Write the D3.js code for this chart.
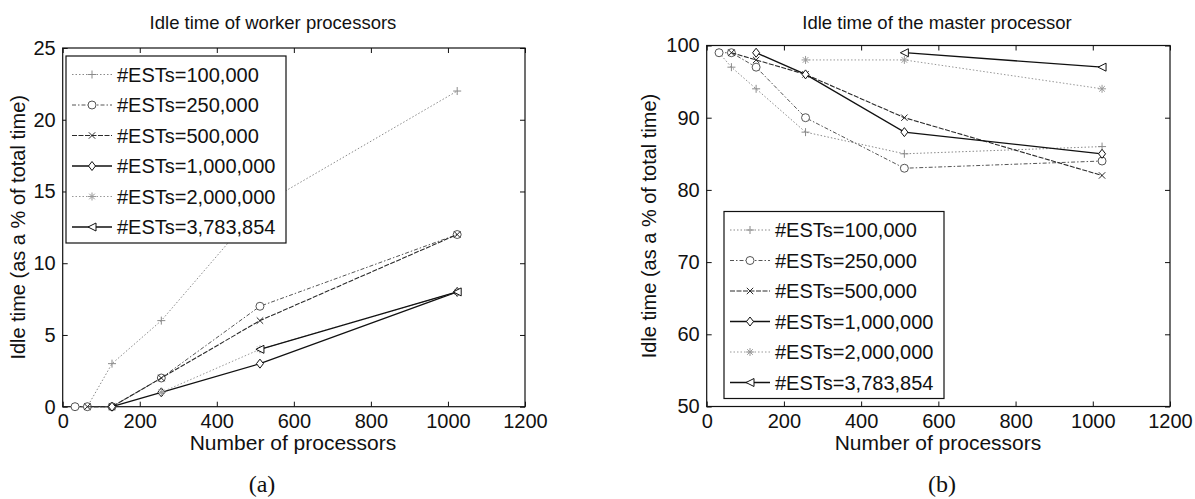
<!DOCTYPE html>
<html>
<head>
<meta charset="utf-8">
<script src="https://cdn.jsdelivr.net/npm/d3@7"></script>
<style>
  body { margin: 0; background: #fff; }
  svg text { font-family: "Liberation Sans", Arial, sans-serif; fill: #111; }
</style>
</head>
<body>
<svg id="fig" width="1195" height="499"></svg>
<script>
// series labels shared by both panels
const seriesNames = ["#ESTs=100,000", "#ESTs=250,000", "#ESTs=500,000",
  "#ESTs=1,000,000", "#ESTs=2,000,000", "#ESTs=3,783,854"];

// number of processors used for each series
const procs = [
  [32, 64, 128, 256, 512, 1024],
  [32, 64, 128, 256, 512, 1024],
  [64, 128, 256, 512, 1024],
  [128, 256, 512, 1024],
  [256, 512, 1024],
  [512, 1024]
];

// (a) idle time of worker processors, % of total time
const workerIdle = [
  [0, 0, 3, 6, 14, 22],
  [0, 0, 0, 2, 7, 12],
  [0, 0, 2, 6, 12],
  [0, 1, 3, 8],
  [1, 4, 8],
  [4, 8]
];

// (b) idle time of the master processor, % of total time
const masterIdle = [
  [99, 97, 94, 88, 85, 86],
  [99, 99, 97, 90, 83, 84],
  [99, 98, 96, 90, 82],
  [99, 96, 88, 85],
  [98, 98, 94],
  [99, 97]
];

const xTicks = [0, 200, 400, 600, 800, 1000, 1200];
const workerTicks = [0, 5, 10, 15, 20, 25];
const masterTicks = [50, 60, 70, 80, 90, 100];

// line look per series (matlab style, scanned greys)
const styles = [
  { marker: "plus",     color: "#8a8a8a", dash: "1.5,2",     width: 1 },
  { marker: "circle",   color: "#555",    dash: "4,2,1.5,2", width: 1 },
  { marker: "cross",    color: "#2a2a2a", dash: "5,1.5",     width: 1.1 },
  { marker: "diamond",  color: "#111",    dash: null,        width: 1.3 },
  { marker: "star",     color: "#999",    dash: "1.5,2",     width: 1 },
  { marker: "triangle", color: "#111",    dash: null,        width: 1.3 }
];

const svg = d3.select("#fig");

function drawMarker(g, type, x, y, color) {
  const s = 4;
  const m = g.append("g").attr("transform", `translate(${x},${y})`)
    .attr("fill", "none").attr("stroke", color).attr("stroke-width", 1);
  if (type === "plus") {
    m.append("path").attr("d", `M${-s},0H${s}M0,${-s}V${s}`);
  } else if (type === "circle") {
    m.append("circle").attr("r", s).attr("fill", "#fff");
  } else if (type === "cross") {
    m.append("path").attr("d", `M${-s*0.8},${-s*0.8}L${s*0.8},${s*0.8}M${-s*0.8},${s*0.8}L${s*0.8},${-s*0.8}`);
  } else if (type === "star") {
    m.append("path").attr("d", `M${-s},0H${s}M0,${-s}V${s}M${-s*0.7},${-s*0.7}L${s*0.7},${s*0.7}M${-s*0.7},${s*0.7}L${s*0.7},${-s*0.7}`);
  } else if (type === "diamond") {
    m.append("path").attr("d", `M0,${-s-0.5}L${s-0.5},0L0,${s+0.5}L${-s+0.5},0Z`).attr("fill", "#fff");
  } else if (type === "triangle") {
    m.append("path").attr("d", `M${-s},0L${s},${-s}L${s},${s}Z`).attr("fill", "#fff");
  }
}

function panel(opt) {
  const x = d3.scaleLinear().domain([0, 1200]).range([opt.x0, opt.x1]);
  const y = d3.scaleLinear().domain(opt.yDomain).range([opt.y1, opt.y0]);
  const g = svg.append("g");
  const fmt = d3.format("d");

  // frame with ticks on all four sides, pointing inward
  g.append("rect").attr("x", opt.x0).attr("y", opt.y0)
    .attr("width", opt.x1 - opt.x0).attr("height", opt.y1 - opt.y0)
    .attr("fill", "none").attr("stroke", "#111").attr("stroke-width", 1.2);

  const bottom = g.append("g").attr("transform", `translate(0,${opt.y1})`)
    .call(d3.axisBottom(x).tickValues(xTicks).tickSize(-5).tickPadding(7).tickFormat(fmt));
  const top = g.append("g").attr("transform", `translate(0,${opt.y0})`)
    .call(d3.axisTop(x).tickValues(xTicks).tickSize(-5).tickFormat(""));
  const left = g.append("g").attr("transform", `translate(${opt.x0},0)`)
    .call(d3.axisLeft(y).tickValues(opt.yTicks).tickSize(-5).tickPadding(7).tickFormat(fmt));
  const right = g.append("g").attr("transform", `translate(${opt.x1},0)`)
    .call(d3.axisRight(y).tickValues(opt.yTicks).tickSize(-5).tickFormat(""));
  [bottom, top, left, right].forEach(a => {
    a.select(".domain").remove();
    a.selectAll("line").attr("stroke", "#111");
    a.selectAll("text").attr("font-size", 20).attr("font-family", "Liberation Sans, Arial, sans-serif").attr("fill", "#111");
  });
  bottom.selectAll("text").attr("dy", "0.71em");

  // series
  const line = d3.line().x(d => x(d[0])).y(d => y(d[1]));
  opt.values.forEach((vals, i) => {
    const pts = procs[i].map((p, j) => [p, vals[j]]);
    const st = styles[i];
    g.append("path").attr("d", line(pts)).attr("fill", "none")
      .attr("stroke", st.color).attr("stroke-width", st.width)
      .attr("stroke-dasharray", st.dash);
    pts.forEach(p => drawMarker(g, st.marker, x(p[0]), y(p[1]), st.color));
  });

  // legend
  const lg = g.append("g");
  lg.append("rect").attr("x", opt.lx).attr("y", opt.ly)
    .attr("width", 220).attr("height", 187)
    .attr("fill", "#fff").attr("stroke", "#111").attr("stroke-width", 1.2);
  seriesNames.forEach((name, i) => {
    const ry = opt.ly + 18.5 + i * 30.5;
    const st = styles[i];
    lg.append("line").attr("x1", opt.lx + 6).attr("x2", opt.lx + 46)
      .attr("y1", ry).attr("y2", ry)
      .attr("stroke", st.color).attr("stroke-width", st.width)
      .attr("stroke-dasharray", st.dash);
    drawMarker(lg, st.marker, opt.lx + 26, ry, st.color);
    lg.append("text").attr("x", opt.lx + 51).attr("y", ry)
      .attr("dy", "0.36em").attr("font-size", 20).text(name);
  });

  // titles
  g.append("text").attr("x", opt.tx).attr("y", 29).attr("text-anchor", "middle")
    .attr("font-size", 18.5).text(opt.title);
  g.append("text").attr("x", opt.xlx).attr("y", 450).attr("text-anchor", "middle")
    .attr("font-size", 21).text("Number of processors");
  g.append("text").attr("transform", `translate(${opt.ylx},${(opt.y0 + opt.y1) / 2}) rotate(-90)`)
    .attr("text-anchor", "middle").attr("dy", "0.36em")
    .attr("font-size", 20).text("Idle time (as a % of total time)");
  g.append("text").attr("x", opt.cx).attr("y", 492).attr("text-anchor", "middle")
    .attr("font-size", 24).style("font-family", "'Liberation Serif', 'DejaVu Serif', serif")
    .text(opt.caption);
}

panel({
  x0: 62.7, x1: 525, y0: 48, y1: 406.7,
  yDomain: [0, 25], yTicks: workerTicks, values: workerIdle,
  lx: 66, ly: 56,
  title: "Idle time of worker processors", tx: 273,
  xlx: 293, ylx: 18, cx: 262, caption: "(a)"
});

panel({
  x0: 706.7, x1: 1170, y0: 45.5, y1: 406.5,
  yDomain: [50, 100], yTicks: masterTicks, values: masterIdle,
  lx: 724, ly: 211.5,
  title: "Idle time of the master processor", tx: 937,
  xlx: 938, ylx: 649, cx: 942, caption: "(b)"
});
</script>
</body>
</html>
